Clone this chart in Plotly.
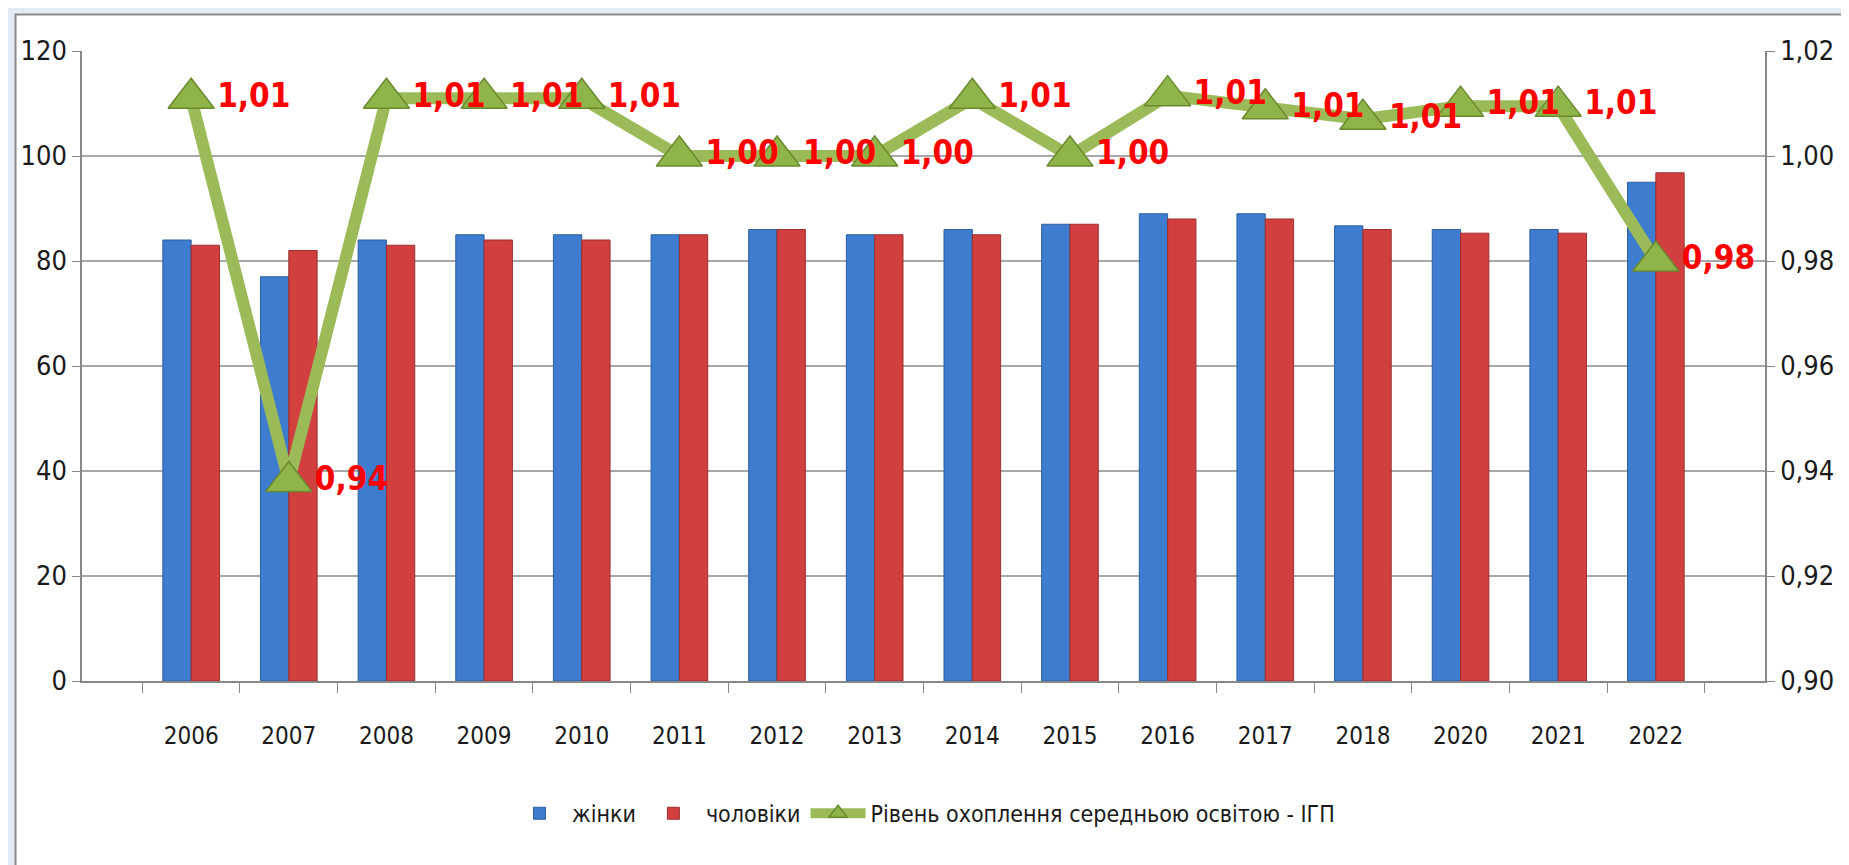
import plotly.graph_objects as go

# data
years = ["2006", "2007", "2008", "2009", "2010", "2011", "2012", "2013",
         "2014", "2015", "2016", "2017", "2018", "2020", "2021", "2022"]
women = [84, 77, 84, 85, 85, 85, 86, 85, 86, 87, 89, 89, 86.7, 86, 86, 95]
men = [83, 82, 83, 84, 84, 85, 86, 85, 85, 87, 88, 88, 86, 85.3, 85.3, 96.8]
gpi = [1.011, 0.938, 1.011, 1.011, 1.011, 1.000, 1.000, 1.000,
       1.011, 1.000, 1.0115, 1.009, 1.007, 1.0095, 1.0095, 0.980]

FONT = "DejaVu Sans Condensed"

fig = go.Figure()

fig.add_trace(go.Bar(x=years, y=women, name="жінки",
                     marker=dict(color="#3d7cce", line=dict(color="#2f5f9e", width=1))))
fig.add_trace(go.Bar(x=years, y=men, name="чоловіки",
                     marker=dict(color="#d13f3f", line=dict(color="#9e2f2f", width=1))))

fig.add_trace(go.Scatter(
    x=years, y=gpi, yaxis="y2", name="Рівень охоплення середньою освітою - ІГП",
    mode="lines+markers+text",
    line=dict(color="#9bbb59", width=12),
    marker=dict(symbol="triangle-up", size=40, color="#8fb54a",
                line=dict(color="#6a8a2e", width=1.5)),
    texttemplate="%{y:.2f}", textposition="middle right",
    textfont=dict(family=FONT, size=33, color="#ff0000", weight="bold"),
    cliponaxis=False,
))

fig.update_layout(
    width=1849, height=865,
    margin=dict(l=71, r=92, t=43, b=192),
    paper_bgcolor="#e3ebf6",
    plot_bgcolor="white",
    separators=", ",
    barmode="group",
    bargap=0.42,
    bargroupgap=0,
    font=dict(family=FONT, size=24, color="#1a1a1a"),
    showlegend=True,
    legend=dict(orientation="h", x=0.5, xanchor="center", y=-0.21, yanchor="middle",
                font=dict(size=23), bgcolor="rgba(0,0,0,0)", itemwidth=55),
    xaxis=dict(type="category", showline=True, linecolor="#888888", linewidth=1.5,
               ticks="outside", tickson="boundaries", ticklen=10, tickcolor="#888888",
               ticklabelstandoff=32, tickfont=dict(size=24)),
    yaxis=dict(range=[0, 120], dtick=20, showgrid=True, gridcolor="#a8a8a8", gridwidth=1.5,
               showline=True, linecolor="#888888", linewidth=1.5,
               ticks="outside", ticklen=8, tickcolor="#888888", zeroline=False,
               tickfont=dict(size=27)),
    yaxis2=dict(range=[0.90, 1.02], dtick=0.02, tickformat=".2f", overlaying="y",
                side="right", showgrid=False, showline=True, linecolor="#888888",
                linewidth=1.5, ticks="outside", ticklen=8, tickcolor="#888888",
                zeroline=False, tickfont=dict(size=27)),
    shapes=[dict(type="rect", xref="paper", yref="paper",
                 x0=-0.0395, x1=1.06, y0=-0.32, y1=1.058,
                 fillcolor="white", line=dict(color="#8a8a8a", width=2), layer="below")],
)

fig.write_html("out.html")
